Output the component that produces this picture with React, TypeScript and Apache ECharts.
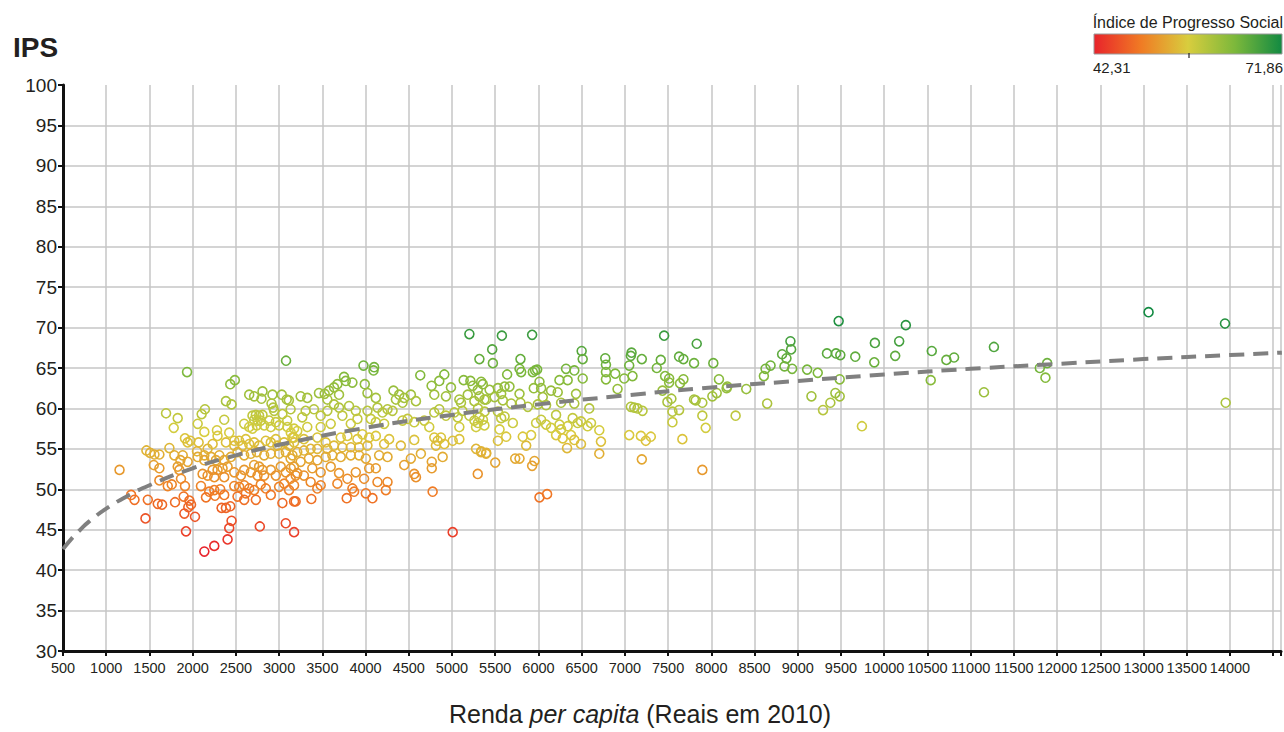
import React, { useEffect, useRef } from 'react';
import * as echarts from 'echarts';

// ---- Data (Renda per capita, IPS) ----
const ptsBelow3200: number[][] = [
  [1935,64.5],[3080,65.9],[2435,63.0],[2488,63.5],[2385,60.9],[2450,60.5],[2654,61.7],[2711,61.5],[2808,62.1],[2796,61.2],[2923,61.7],[2912,60.6],[3031,61.7],[3088,61.1],[2931,60.1],[2942,59.7],
  [1692,59.4],[1827,58.8],[1781,57.6],[2104,59.3],[2142,59.9],[2058,58.1],[2365,58.6],[2135,57.1],[2281,57.3],[2288,56.6],[2423,57.0],[2481,56.0],[2596,58.1],[2692,59.1],[2731,59.2],[2769,59.1],[2808,59.2],[2711,58.6],[2750,58.5],[2788,58.5],[2654,57.7],[2692,57.5],[2742,57.9],[2827,57.9],[2885,58.5],[2904,57.7],[2962,58.3],[3000,57.9],[3038,59.3],[3096,57.7],[3135,57.0],[3173,57.5],[3154,56.4],
  [1911,56.3],[1942,55.8],[1973,56.0],[2069,55.8],[2050,54.7],[1731,55.1],[1788,54.2],[1465,54.8],[1508,54.5],[1558,54.3],[1615,54.3],[1885,54.2],[2173,55.0],[2231,55.6],[2385,55.8],[2481,55.4],[2538,56.0],[2577,55.4],[2615,56.2],[2654,55.6],[2711,55.8],[2769,55.4],[2846,56.0],[2904,55.8],[2962,56.2],[2981,55.4],[3058,55.8],[3115,55.4],[3173,55.8],[2058,54.0],[2135,54.2],[2212,54.0],[2308,54.2],[2365,53.6],[2442,54.0],[2519,54.6],[2596,54.2],[2673,54.4],[2742,54.6],[2827,54.2],[2904,54.4],[3000,54.4],[3077,54.6],[3154,54.2],
  [1550,53.0],[1615,52.6],[1827,52.8],[1858,53.6],[1942,53.4],[1846,52.4],[2115,51.9],[2231,52.4],[2288,52.4],[2346,52.6],[2404,52.8],[2481,52.1],[2135,53.6],[2269,53.6],[2173,51.7],[2250,51.5],[2365,51.5],[2558,51.7],[2596,52.4],[2673,52.1],[2711,53.0],[2769,52.8],[2808,52.4],[2750,51.7],[2827,51.7],[2904,52.4],[2962,51.7],[3019,52.8],[3077,52.1],[3135,52.6],[3192,51.7],[1615,51.1],[1712,50.4],[1758,50.6],[1865,51.3],[1911,50.4],
  [2096,50.4],[2192,49.7],[2258,49.2],[2250,49.9],[2319,50.0],[2365,49.3],[2481,50.4],[2538,50.3],[2596,50.5],[2654,50.1],[2615,49.5],[2711,49.9],[2788,50.6],[2846,50.1],[2904,49.3],[3000,50.3],[3058,50.7],[3115,49.9],[3173,50.5],[1796,48.4],[1896,49.1],[1962,48.6],[1981,48.1],[1950,47.8],[2154,49.0],[2335,47.7],[2385,47.7],[2435,47.9],[2519,49.1],[2596,48.7],[2731,48.7],[3038,48.3],[3173,48.5],[1327,48.7],[1288,49.3],[1481,48.7],[1596,48.2],[1646,48.1],
  [1904,47.0],[2027,46.6],[1454,46.4],[1923,44.8],[2423,45.2],[2450,46.1],[2404,43.8],[2250,43.0],[2135,42.3],[2777,45.4],[3077,45.8],[3173,44.7],[1154,52.4]
];

const pts3200to5400: number[][] = [
  [5201,69.2],[5317,66.1],[3976,65.3],[4099,65.1],[4092,64.7],[4633,64.1],[4911,64.2],[4853,63.4],[4764,62.8],[4988,62.6],[5135,63.5],[5213,63.4],[3751,63.9],[3771,63.4],[3848,63.2],[3991,63.0],[3674,63.0],[3635,62.6],[3577,62.2],[3527,61.8],[3461,61.9],[3249,61.5],[3326,61.3],[3113,61.0],[3558,61.1],[3693,61.7],[4022,61.9],[4119,61.3],[4323,62.2],[4389,61.7],[4447,61.3],[4351,61.1],[4428,60.7],[4524,61.7],[4583,60.9],[4795,61.7],[4930,61.5],[5085,61.1],[5182,61.7],[5240,62.8],[5298,62.3],[5356,63.0],[5104,60.7],[5259,60.9],[5317,61.5],[5375,61.1],
  [3133,59.9],[3094,58.5],[3268,58.9],[3307,59.7],[3403,59.9],[3481,59.1],[3558,59.7],[3635,60.5],[3693,60.1],[3732,59.1],[3809,60.3],[3887,59.7],[3906,58.7],[4022,59.7],[4138,60.1],[4196,59.5],[4254,59.9],[4312,59.7],[4061,58.7],[4119,58.3],[4215,58.1],[3829,58.1],[3597,58.1],[3481,57.7],[3326,57.7],[3210,57.2],[4428,58.5],[4486,58.7],[4563,58.3],[4679,58.5],[4737,57.7],[4795,59.5],[4853,59.9],[4930,59.1],[5027,59.5],[5066,58.9],[5120,59.7],[5201,59.1],[5259,58.5],[5317,58.9],[5375,57.9],[5278,57.7],[5085,57.7],
  [3171,56.4],[3287,56.2],[3442,56.4],[3539,55.8],[3713,56.4],[3790,56.6],[3906,56.2],[3964,56.8],[4041,56.4],[4119,56.6],[4215,55.6],[4273,56.2],[4408,55.4],[4563,56.1],[4795,56.4],[4834,56.0],[4872,56.4],[4814,55.4],[4911,55.6],[5008,56.0],[5085,56.2],[3210,54.6],[3287,54.8],[3365,55.0],[3442,55.0],[3558,55.0],[3635,55.4],[3732,55.2],[3829,55.2],[3925,55.2],[4022,55.4],[5278,55.0],[5336,54.6],[5394,54.4],
  [3133,53.8],[3171,52.8],[3249,53.4],[3345,53.8],[3442,53.6],[3539,54.0],[3616,54.2],[3713,54.0],[3829,54.2],[3925,54.2],[4003,53.8],[4157,54.2],[4254,54.0],[4447,53.0],[4524,53.8],[4640,54.4],[4766,53.4],[4892,54.0],[5298,51.9],[3210,52.0],[3287,51.7],[3384,52.6],[3481,52.1],[3597,52.8],[3693,52.0],[3790,51.3],[3887,52.1],[4042,52.6],[4119,52.6],[3983,51.3],[4138,50.9],[4254,50.9],[4563,51.9],[4583,51.5],[4766,52.6],[3133,51.3],[3365,50.9],[3481,50.5],[3442,50.1],[3674,50.7],[3848,50.1],[3867,49.7],[4003,49.5],[4080,48.9],[4235,49.9],[4776,49.7],[3191,48.5],[3373,48.8],[3782,48.9],[5008,44.7]
];

const pts5400to7600: number[][] = [
  [5577,69.0],[5927,69.1],[5465,67.3],[5473,65.6],[5792,66.1],[5781,64.9],[5800,64.5],[5935,64.5],[5962,64.7],[5985,64.8],[5638,64.2],[5338,63.3],[5435,62.3],[5531,62.5],[5608,62.7],[5665,62.7],[5569,61.8],[5492,61.4],[5396,61.1],[5588,61.0],[5685,60.6],[5781,61.8],[5792,60.7],[5877,60.2],[5946,62.5],[6012,63.3],[6031,62.5],[6146,62.2],[6223,62.0],[6243,63.5],[6338,63.5],[6319,64.9],[6415,64.7],[6435,61.8],[6512,63.7],[6500,67.1],[6512,66.1],[6773,66.2],[6781,65.4],[6781,64.5],[6781,63.6],[6888,64.3],[6915,62.4],[6992,63.7],[7088,64.0],[7050,65.3],[7069,66.5],[7077,66.9],[7196,66.1],[7415,66.0],[7369,65.0],[7454,69.0],[7465,64.0],[7435,62.2],
  [6050,61.4],[5992,60.5],[6088,60.4],[6262,60.7],[6415,60.6],[6588,60.0],[7069,60.2],[7108,60.1],[7146,60.0],[7204,59.7],[5300,60.0],[5377,59.6],[5358,58.6],[5300,58.2],[5531,59.6],[5569,58.8],[5608,59.0],[5704,58.2],[5973,58.2],[6031,58.6],[6088,58.0],[6204,59.2],[6243,58.0],[6262,57.4],[6338,57.8],[6396,58.8],[6454,58.2],[6492,58.4],[6569,57.8],[6608,58.2],[6704,57.3],[6723,55.9],[6204,56.7],[6146,57.6],[6281,56.3],[6377,56.7],[6415,56.1],[6492,55.6],[5819,56.5],[5915,56.7],[5858,55.4],[5627,56.5],[5531,56.0],[5550,57.4],[6331,55.1],[6704,54.4],[7050,56.7],[7185,56.6],[7242,56.0],[7300,56.5],[5338,54.7],[5396,54.5],[5731,53.8],[5781,53.8],[5954,53.5],[5927,52.9],[5500,53.3],[7196,53.7],[6012,49.0],[6100,49.4]
];

const pts7600to9800: number[][] = [
  [9473,70.8],[7831,68.0],[8915,68.3],[8923,67.3],[8819,66.7],[8869,66.2],[8846,65.2],[8935,64.9],[8627,64.9],[8608,64.0],[8685,65.3],[9108,64.8],[9231,64.4],[9338,66.8],[9442,66.8],[9492,66.6],[9665,66.4],[9485,63.6],[9435,61.9],[9485,61.5],[9377,60.7],[9292,59.8],[9742,57.8],[9158,61.5],[8646,60.6],[8281,59.1],[8023,65.6],[7800,65.6],[7627,66.4],[7677,66.1],[7512,63.7],[7512,63.2],[7638,63.1],[7677,63.6],[8088,63.6],[8185,62.7],[8177,62.5],[8062,61.9],[8012,61.5],[8404,62.4],[7538,61.2],[7492,60.8],[7800,61.1],[7819,61.0],[7896,60.7],[7627,59.8],[7550,59.6],[7896,59.1],[7550,58.3],[7935,57.6],[7665,56.2],[7896,52.4]
];

const ptsAbove9800: number[][] = [
  [10250,70.3],[13058,71.9],[13942,70.5],[11269,67.6],[9892,68.1],[10173,68.3],[10550,67.1],[10719,66.0],[10808,66.3],[10127,66.5],[9885,65.7],[10538,63.5],[11800,65.0],[11885,65.6],[11865,63.8],[11154,62.0],[13950,60.7]
];

// Trend line
const trendX = [500, 600, 700, 800, 1000, 1250, 1500, 2000, 2500, 3000, 4000, 5000, 6000, 7000, 8000, 9000, 10000, 11000, 12000, 13000, 14000, 14600];
const trendY = [42.6, 43.9, 45.0, 46.0, 47.6, 49.2, 50.5, 52.6, 54.2, 55.5, 57.6, 59.2, 60.5, 61.6, 62.6, 63.4, 64.2, 64.9, 65.5, 66.1, 66.6, 66.9];

// Legend / scale
const legendTitle = 'Índice de Progresso Social';
const legendMin = 42.31;
const legendMax = 71.86;
const legendMinLabel = '42,31';
const legendMaxLabel = '71,86';
const colorStops: [number, string][] = [
  [0, '#e8232b'],
  [0.25, '#f07b24'],
  [0.5, '#d8cd3e'],
  [0.75, '#7cb83b'],
  [1, '#128a42'],
];

const yLabel = 'IPS';

function hexToRgb(h: string) {
  const n = parseInt(h.slice(1), 16);
  return [(n >> 16) & 255, (n >> 8) & 255, n & 255];
}
function colorFor(v: number) {
  let t = (v - legendMin) / (legendMax - legendMin);
  t = Math.max(0, Math.min(1, t));
  for (let i = 1; i < colorStops.length; i++) {
    const [t1, c1] = colorStops[i];
    const [t0, c0] = colorStops[i - 1];
    if (t <= t1) {
      const f = (t - t0) / (t1 - t0);
      const a = hexToRgb(c0), b = hexToRgb(c1);
      const r = a.map((x, k) => Math.round(x + (b[k] - x) * f));
      return `rgb(${r[0]},${r[1]},${r[2]})`;
    }
  }
  return colorStops[colorStops.length - 1][1];
}

const FONT = "'Liberation Sans', Arial, Helvetica, sans-serif";

export default function App() {
  const ref = useRef<HTMLDivElement>(null);
  useEffect(() => {
    document.body.style.margin = '0';
    const chart = echarts.init(ref.current as HTMLDivElement, undefined, { renderer: 'svg' });
    const all = [...ptsBelow3200, ...pts3200to5400, ...pts5400to7600, ...pts7600to9800, ...ptsAbove9800];
    const scatterData = all.map(([x, y]) => ({ value: [x, y], itemStyle: { borderColor: colorFor(y) } }));
    const trendData = trendX.map((x, i) => [x, trendY[i]]);

    const barX = 1094, barY = 34, barW = 188, barH = 20;

    chart.setOption({
      animation: false,
      backgroundColor: '#ffffff',
      textStyle: { fontFamily: FONT },
      grid: { left: 63, right: 0, top: 85, bottom: 81, containLabel: false },
      xAxis: {
        type: 'value',
        min: 500,
        max: 14590,
        interval: 500,
        axisLine: { show: true, onZero: false, lineStyle: { color: '#111', width: 3 } },
        axisTick: { show: true, length: 5, lineStyle: { color: '#111', width: 2 } },
        axisLabel: {
          color: '#231f20',
          fontSize: 14.5,
          fontFamily: FONT,
          margin: 9,
          formatter: (v: number) => (v > 14000 ? '' : String(v)),
        },
        splitLine: { show: true, showMinLine: false, lineStyle: { color: '#c6c6c6', width: 1.5 } },
      },
      yAxis: {
        type: 'value',
        min: 30,
        max: 100,
        interval: 5,
        axisLine: { show: true, onZero: false, lineStyle: { color: '#111', width: 3 } },
        axisTick: { show: true, length: 5, lineStyle: { color: '#111', width: 2 } },
        axisLabel: { color: '#231f20', fontSize: 19, fontFamily: FONT, margin: 6 },
        splitLine: { show: true, showMinLine: false, showMaxLine: false, lineStyle: { color: '#c6c6c6', width: 1.5 } },
      },
      series: [
        {
          type: 'scatter',
          silent: true,
          symbol: 'circle',
          symbolSize: 9,
          itemStyle: { color: 'rgba(255,255,255,0)', borderWidth: 1.6, opacity: 1 },
          data: scatterData,
          z: 2,
        },
        {
          type: 'line',
          silent: true,
          smooth: true,
          showSymbol: false,
          symbol: 'none',
          data: trendData,
          lineStyle: { color: '#808080', width: 4, type: [15, 9] },
          z: 3,
        },
      ],
      graphic: [
        {
          type: 'text',
          left: 13,
          top: 33,
          style: { text: yLabel, fontSize: 28, fontWeight: 'bold', fill: '#231f20', fontFamily: FONT },
        },
        {
          type: 'text',
          x: 640,
          y: 714,
          style: {
            text: '{n|Renda }{i|per capita}{n| (Reais em 2010)}',
            align: 'center',
            verticalAlign: 'middle',
            rich: {
              n: { fontSize: 25, fill: '#231f20', fontFamily: FONT },
              i: { fontSize: 25, fill: '#231f20', fontStyle: 'italic', fontFamily: FONT },
            },
          },
        },
        {
          type: 'text',
          x: 1283,
          y: 22,
          style: { text: legendTitle, fontSize: 16, fill: '#231f20', align: 'right', verticalAlign: 'middle', fontFamily: FONT },
        },
        {
          type: 'rect',
          shape: { x: barX, y: barY, width: barW, height: barH },
          style: {
            fill: new echarts.graphic.LinearGradient(0, 0, 1, 0, colorStops.map(([o, c]) => ({ offset: o, color: c }))),
            stroke: '#9a9a9a',
            lineWidth: 1,
          },
        },
        {
          type: 'line',
          shape: { x1: barX + barW / 2 + 1, y1: barY + barH - 1, x2: barX + barW / 2 + 1, y2: barY + barH + 4 },
          style: { stroke: '#222', lineWidth: 1.2 },
        },
        {
          type: 'text',
          x: 1093,
          y: 67,
          style: { text: legendMinLabel, fontSize: 15, fill: '#231f20', align: 'left', verticalAlign: 'middle', fontFamily: FONT },
        },
        {
          type: 'text',
          x: 1283,
          y: 67,
          style: { text: legendMaxLabel, fontSize: 15, fill: '#231f20', align: 'right', verticalAlign: 'middle', fontFamily: FONT },
        },
      ],
    });
    return () => chart.dispose();
  }, []);
  return (
    <div
      ref={ref}
      style={{ position: 'absolute', left: 0, top: 0, width: 1284, height: 732, background: '#fff' }}
    />
  );
}
